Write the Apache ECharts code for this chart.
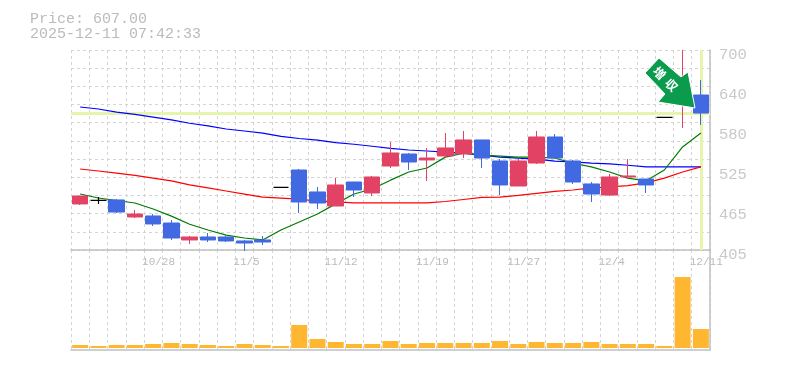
<!DOCTYPE html>
<html><head><meta charset="utf-8">
<style>html,body{margin:0;padding:0;background:#fff}#c{width:785px;height:370px}</style>
<script src="https://cdn.jsdelivr.net/npm/echarts@6/dist/echarts.min.js"></script>
</head><body><div id="c"></div>
<script>
// [open, close, low, high]
const candles = [
[472.9,484.6,471.4,484.6],[478.3,478.3,472.9,483.2],[478.8,461,459.6,480.2],[453.7,458.1,452.2,464],
[455.2,443.4,440.4,458.1],[444.8,422.7,419.8,449.3],[419.8,424.2,413.9,425.7],[424.2,419.8,416.8,430.1],
[424.2,418.3,416.8,425.7],[418.3,415.3,403.5,419.8],[419.8,416.8,412.4,425.7],[497.5,497.5,497.5,497.5],
[523,475.8,459.6,524.5],[490.6,474.3,465.5,497.9],[469.9,500.9,469.9,511.2],[505.3,493.5,483.2,505.3],
[489.1,512.7,484.6,514.2],[528.9,548.1,526,564.3],[546.6,534.8,523,548.1],[537.8,540.7,506.8,555.5],
[543.7,555.5,540.7,577.6],[546.6,567.3,540.7,580.5],[567.3,540.7,526,567.3],[536.3,500.9,486.1,539.2],
[499.4,536.3,499.4,539.2],[533.3,571.7,531.9,580.5],[571.7,540.7,540.7,576.1],[536.3,505.3,502.4,537.8],
[502.4,487.6,475.8,505.3],[486.1,512.7,484.6,517.1],[512.7,514.2,509.7,539.2],[509.7,500.9,489.1,509.7],
[600.5,600.5,600.5,600.5],[625,650,585,700],[633.6,607,589.4,655.8]];
const maLong = [615.9,613,608.5,605,601,597,592,588,583.5,580.5,577.5,572.5,569.5,567,563.5,561,558,555,552.5,551,549.5,548,545,542,540.5,539,536,535,533,532,530,527.5,527.5,527.5,527.5];
const maMid = [524.5,521.5,518.5,515,511,507,501,496.5,492,487.5,483,481.5,480,477,476,474.5,474.5,474.5,474.5,474.5,476.5,479.5,482.5,483,485.5,488.5,491.5,493.5,496.5,498,500,504,511,520,527.5];
const maShort = [487.6,481.7,478,474.3,465.5,455,443,434.5,427,422.7,419.8,434.5,446.3,458,473,487.6,495,508,520,526,542,548,545,543.6,542,542,540.7,533,527.5,520,511,507,523,557,577.5];
const volumes = [30,20,30,30,40,50,40,30,20,40,30,20,230,90,60,40,40,70,40,50,50,50,50,70,40,60,50,50,60,40,40,40,20,710,190];
const dateTicks = {4:'10/28',9:'11/5',14:'11/12',19:'11/19',24:'11/27',29:'12/4',34:'12/11'};
const priceTickValues = [405,464,523,582,641,700];
const priceTickLabels = ['405','465','525','580','640','700'];
const currentPrice = 607;

const categories = candles.map((_, i) => i);
const boundaries = Array.from({length: candles.length + 1}, (_, i) => i);
const GRID = '#d4d4d4', FRAME = '#c0c0c0', MONO = '"Liberation Mono","DejaVu Sans Mono",monospace';
const dash = {show:true, interval:0, lineStyle:{color:GRID, type:[3,3], width:1}};
const hiddenX = {type:'category', position:'bottom', data:categories, boundaryGap:true, axisLine:{show:false}, axisTick:{show:false}, axisLabel:{show:false}, splitLine:{show:false}};
const L = 71, W = 639;

const chart = echarts.init(document.getElementById('c'), null, {renderer:'canvas'});
chart.setOption({
  animation:false, backgroundColor:'#fff',
  title:{left:30, top:12, padding:0, text:'Price: 607.00\n2025-12-11 07:42:33', textStyle:{fontFamily:MONO, fontSize:15, fontWeight:'normal', color:'#bbbbbb', lineHeight:15}},
  grid:[{left:L, width:W, top:50, height:200},{left:L, width:W, top:250, height:100}],
  xAxis:[
    Object.assign({gridIndex:0}, hiddenX),
    {gridIndex:0, type:'category', position:'bottom', offset:0, data:boundaries, boundaryGap:false, axisLine:{show:true,onZero:false,lineStyle:{color:FRAME,width:1.5}}, axisTick:{show:false},
     splitLine:dash,
     axisLabel:{show:true, interval:(i)=>dateTicks[i]!==undefined, formatter:(v)=>dateTicks[v]||'', align:'left', margin:7, padding:[0,0,0,-2], color:'#bbbbbb', fontFamily:MONO, fontSize:11, hideOverlap:false}},
    Object.assign({gridIndex:1}, hiddenX),
    {gridIndex:1, type:'category', position:'bottom', data:boundaries, boundaryGap:false, axisLine:{show:true,onZero:false,lineStyle:{color:FRAME,width:1.5}}, axisTick:{show:false}, axisLabel:{show:false}, splitLine:dash}
  ],
  yAxis:[
    {gridIndex:0, type:'value', min:405, max:700, position:'right', splitLine:{show:false}, axisTick:{show:false},
     axisLine:{show:true,lineStyle:{color:FRAME,width:1.5}},
     axisLabel:{show:true, customValues:priceTickValues, formatter:(v)=>priceTickLabels[priceTickValues.indexOf(v)], color:'#c8c8c8', fontFamily:MONO, fontSize:15.5, margin:9, verticalAlign:'top', padding:[-3,0,0,0]}},
    {gridIndex:0, type:'value', min:0, max:11, interval:1, position:'left', axisLine:{show:false}, axisTick:{show:false}, axisLabel:{show:false}, splitLine:{show:true, lineStyle:{color:GRID, type:[3,3], width:1}}},
    {gridIndex:1, type:'value', min:-20, max:980, position:'right', axisLine:{show:true,lineStyle:{color:FRAME,width:1.5}}, axisTick:{show:false}, axisLabel:{show:false}, splitLine:{show:false}}
  ],
  series:[
    {type:'line', xAxisIndex:0, yAxisIndex:0, data:[], z:2, silent:true, markLine:{silent:true, symbol:'none', label:{show:false}, z:2, animation:false,
      lineStyle:{color:'#e5f5ab', width:3, type:'solid'}, data:[{yAxis:currentPrice},{xAxis:candles.length-1}]}},
    {type:'candlestick', xAxisIndex:0, yAxisIndex:0, barWidth:16, clip:false, z:4,
      itemStyle:{color:'#e24264', color0:'#4169e1', borderColor:'#e24264', borderColor0:'#4169e1', borderWidth:1},
      data:candles.map(c => c[0]===c[1] ? {value:c, itemStyle:{color:'#000', color0:'#000', borderColor:'#000', borderColor0:'#000', borderColorDoji:'#000', borderWidth:1.2}} : c)},
    {type:'line', xAxisIndex:0, yAxisIndex:0, data:maLong, showSymbol:false, z:3, lineStyle:{color:'#0000ff', width:1.2}},
    {type:'line', xAxisIndex:0, yAxisIndex:0, data:maMid, showSymbol:false, z:3, lineStyle:{color:'#ff0000', width:1.2}},
    {type:'line', xAxisIndex:0, yAxisIndex:0, data:maShort, showSymbol:false, z:3, lineStyle:{color:'#007a00', width:1.2}},
    {type:'bar', xAxisIndex:2, yAxisIndex:2, data:volumes, barWidth:16, itemStyle:{color:'#ffb732'}, z:3}
  ],
  graphic:[
    {type:'polygon', z:20, shape:{points:[[659,58],[681,77],[688,72],[695,108],[658,102],[665,94],[645,73]]}, style:{fill:'#0a9b4d', stroke:'#fff', lineWidth:1}},
    {type:'text', z:21, x:659.5, y:73, rotation:-Math.PI/4, style:{text:'増', x:0, y:0, align:'center', verticalAlign:'middle', fill:'#fff', font:'bold 12px "Noto Sans CJK JP"'}},
    {type:'text', z:21, x:671.5, y:85, rotation:-Math.PI/4, style:{text:'収', x:0, y:0, align:'center', verticalAlign:'middle', fill:'#fff', font:'bold 12px "Noto Sans CJK JP"'}}
  ]
});
</script></body></html>
